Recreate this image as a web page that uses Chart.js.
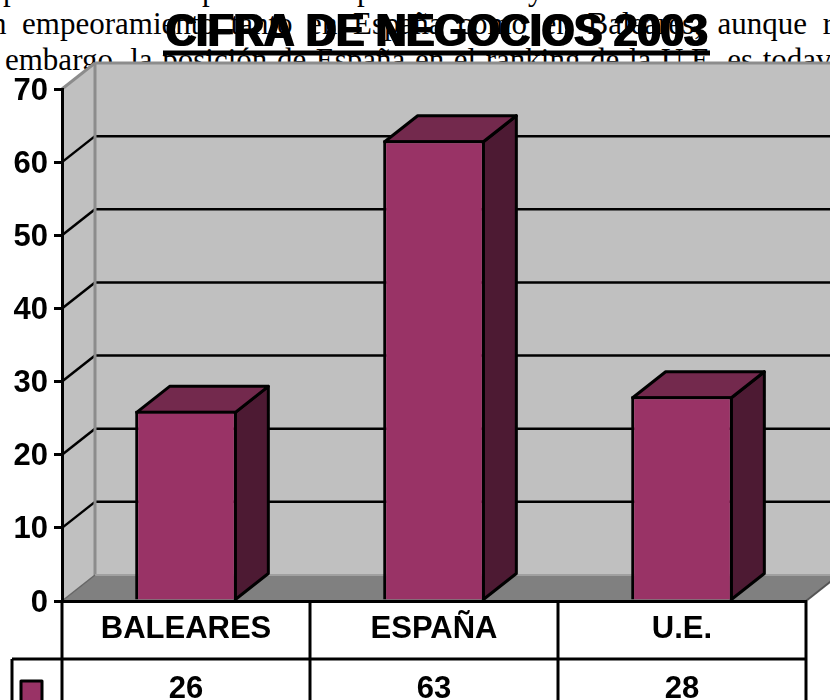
<!DOCTYPE html>
<html lang="es">
<head>
<meta charset="utf-8">
<title>Cifra de negocios 2003</title>
<script src="https://cdn.jsdelivr.net/npm/chart.js@4/dist/chart.umd.min.js"></script>
<style>
  html, body { margin: 0; padding: 0; background: #fff; overflow: hidden; }
  #page { position: relative; width: 830px; height: 700px; overflow: hidden; }
  .line { position: absolute; font: 31px/36px "Liberation Serif", serif; color: #000; white-space: normal; text-align: justify; text-align-last: justify; }
  .frag { position: absolute; font: 31px/36px "Liberation Serif", serif; color: #000; }
  canvas { position: absolute; left: 0; top: 0; }
</style>
</head>
<body>
<div id="page">
  <!-- document text that sits behind the pasted chart -->
  <span class="frag" style="left:3px;top:-28px">p</span>
  <span class="frag" style="left:202px;top:-28px">p</span>
  <span class="frag" style="left:357px;top:-28px">p</span>
  <span class="frag" style="left:528px;top:-28px">y</span>
  <div class="line" style="left:-9px;top:6px;width:842px">n empeoramiento tanto en España como en Baleares, aunque r</div>
  <div class="line" style="left:5px;top:42px;width:849px">embargo, la posición de España en el ranking de la U.E. es todavía</div>
  <canvas id="chart" width="830" height="700"></canvas>
</div>
<script>
// Data
const titleText = 'CIFRA DE NEGOCIOS 2003';
const categories = ['BALEARES', 'ESPAÑA', 'U.E.'];
const values = [26, 63, 28];
const yTicks = [0, 10, 20, 30, 40, 50, 60, 70];

// Style
const FONT = '"Liberation Sans", Arial, sans-serif';
const DEPTH_X = 33;
const DEPTH_Y = 26;
const WALL = '#c0c0c0';
const FLOOR = '#808080';
const EDGE = '#8c8c8c';
const BAR = '#993366';
const BAR_TOP = '#73294d';
const BAR_SIDE = '#4d1a33';

function poly(ctx, pts, fill, stroke, lw) {
    ctx.beginPath();
    pts.forEach((p, i) => i ? ctx.lineTo(p[0], p[1]) : ctx.moveTo(p[0], p[1]));
    ctx.closePath();
    if (fill) { ctx.fillStyle = fill; ctx.fill(); }
    if (stroke) { ctx.strokeStyle = stroke; ctx.lineWidth = lw; ctx.lineJoin = 'round'; ctx.stroke(); }
}

function seg(ctx, x1, y1, x2, y2, color, lw) {
    ctx.beginPath();
    ctx.moveTo(x1, y1);
    ctx.lineTo(x2, y2);
    ctx.strokeStyle = color;
    ctx.lineWidth = lw;
    ctx.stroke();
}

// Walls, floor and gridlines go on the back plane, not on the chart area
const wallsPlugin = {
    id: 'walls',
    beforeDraw(chart) {
        const { ctx, scales: { x, y } } = chart;
        const l = x.left, r = x.right;
        const top = y.getPixelForValue(70), base = y.getPixelForValue(0);
        ctx.save();
        poly(ctx, [[l, top], [l + DEPTH_X, top - DEPTH_Y], [r + DEPTH_X, top - DEPTH_Y], [r + DEPTH_X, base - DEPTH_Y], [l + DEPTH_X, base - DEPTH_Y], [l, base]], WALL);
        poly(ctx, [[l, base], [l + DEPTH_X, base - DEPTH_Y], [r + DEPTH_X, base - DEPTH_Y], [r, base]], FLOOR);
        yTicks.filter(v => v > 0 && v < 70).forEach(v => {
            const py = y.getPixelForValue(v);
            seg(ctx, l, py, l + DEPTH_X, py - DEPTH_Y, '#000', 2.5);
            seg(ctx, l + DEPTH_X, py - DEPTH_Y, r + DEPTH_X, py - DEPTH_Y, '#000', 2.5);
        });
        seg(ctx, l, top, l + DEPTH_X, top - DEPTH_Y, EDGE, 3);
        seg(ctx, l + DEPTH_X, top - DEPTH_Y, r + DEPTH_X, top - DEPTH_Y, EDGE, 3);
        seg(ctx, l + DEPTH_X, top - DEPTH_Y, l + DEPTH_X, base - DEPTH_Y, EDGE, 3);
        seg(ctx, l + DEPTH_X, base - DEPTH_Y, r + DEPTH_X, base - DEPTH_Y, '#a0a0a0', 2);
        seg(ctx, l, base, l + DEPTH_X, base - DEPTH_Y, '#666', 1.5);
        seg(ctx, r, base, r + DEPTH_X, base - DEPTH_Y, '#555', 2);
        ctx.restore();
    },
    // side and top faces of each bar
    beforeDatasetsDraw(chart) {
        const { ctx } = chart;
        ctx.save();
        chart.getDatasetMeta(0).data.forEach(bar => {
            const { x, y, base, width } = bar.getProps(['x', 'y', 'base', 'width'], true);
            const a = x - width / 2 + 1.5, b = x + width / 2 - 1.5;
            const t = y + 1.5;
            poly(ctx, [[b, t], [b + DEPTH_X, t - DEPTH_Y], [b + DEPTH_X, base - DEPTH_Y], [b, base]], BAR_SIDE, '#000', 3);
            poly(ctx, [[a, t], [a + DEPTH_X, t - DEPTH_Y], [b + DEPTH_X, t - DEPTH_Y], [b, t]], BAR_TOP, '#000', 3);
        });
        ctx.restore();
    }
};

// Data table under the x axis, plus the heavy title and its underline
const tablePlugin = {
    id: 'dataTable',
    afterDraw(chart) {
        const { ctx, scales: { x } } = chart;
        const rowY = 659, bottom = 700;
        ctx.save();
        const cell = (x.right - x.left) / categories.length;
        for (let i = 0; i <= categories.length; i++) {
            seg(ctx, x.left + i * cell, x.top, x.left + i * cell, bottom, '#000', 3);
        }
        seg(ctx, 12, rowY, x.right, rowY, '#000', 3);
        seg(ctx, 12, rowY, 12, bottom, '#000', 3);
        poly(ctx, [[21, 681], [42, 681], [42, 706], [21, 706]], BAR, '#000', 3);

        ctx.font = 'bold 31px ' + FONT;
        ctx.fillStyle = '#000';
        ctx.textAlign = 'center';
        ctx.textBaseline = 'alphabetic';
        values.forEach((v, i) => ctx.fillText(String(v), x.getPixelForValue(i), 698));

        seg(ctx, 163, 53, 710, 53, '#000', 5);

        // title is double struck in the original, a hard shadow does the same
        ctx.translate(435.5, 46);
        ctx.scale(1, 1.12);
        ctx.font = 'bold 42px ' + FONT;
        ctx.shadowColor = '#000';
        ctx.shadowOffsetX = 2.5;
        ctx.shadowBlur = 0;
        ctx.fillText(titleText, 0, 0);
        ctx.restore();
    }
};

new Chart(document.getElementById('chart').getContext('2d'), {
    type: 'bar',
    data: {
        labels: categories,
        datasets: [{
            data: values,
            backgroundColor: BAR,
            borderColor: '#000',
            borderWidth: 3,
            categoryPercentage: 1,
            barPercentage: 0.41
        }]
    },
    options: {
        responsive: false,
        animation: false,
        layout: { padding: { top: 89, right: 24 } },
        plugins: {
            legend: { display: false },
            tooltip: { enabled: false }
        },
        scales: {
            x: {
                afterFit: s => { s.height = 99; },
                border: { color: '#000', width: 3, z: 1 },
                grid: { drawOnChartArea: false, drawTicks: false },
                ticks: { color: '#000', padding: 10, maxRotation: 0, autoSkip: false, font: { family: FONT, size: 31, weight: 'bold' } }
            },
            y: {
                min: 0,
                max: 70,
                afterFit: s => { s.width = 62; },
                afterBuildTicks: s => { s.ticks = yTicks.map(v => ({ value: v })); },
                border: { color: '#000', width: 3 },
                grid: { drawOnChartArea: false, drawTicks: true, tickLength: 8, color: '#000', lineWidth: 3 },
                ticks: { color: '#000', padding: 6, labelOffset: 2, font: { family: FONT, size: 31, weight: 'bold' } }
            }
        }
    },
    plugins: [wallsPlugin, tablePlugin]
});
</script>
</body>
</html>
